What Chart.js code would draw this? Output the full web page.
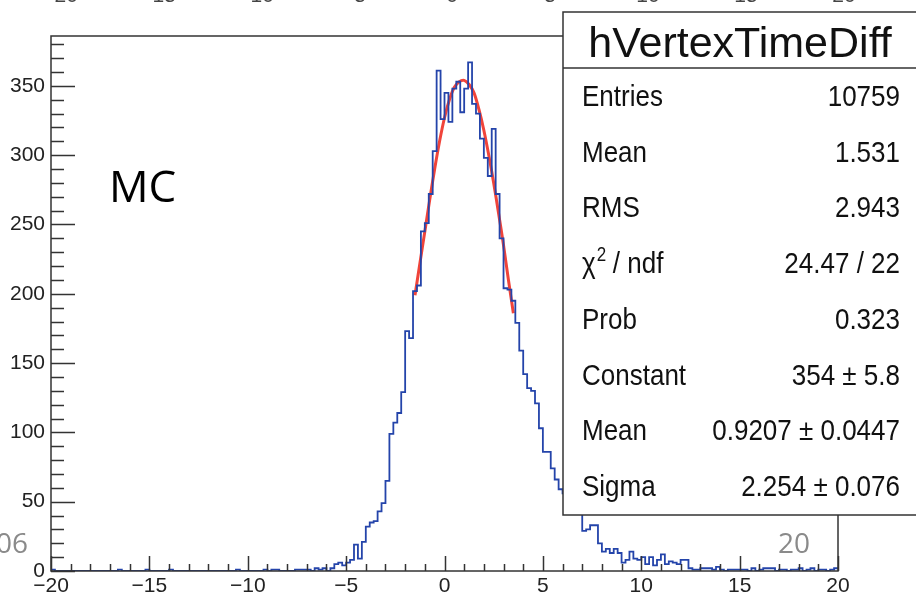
<!DOCTYPE html>
<html>
<head>
<meta charset="utf-8">
<script src="https://cdn.jsdelivr.net/npm/chart.js@4.4.1/dist/chart.umd.min.js"></script>
<style>
  html, body { margin: 0; padding: 0; background: #fff; }
  #wrap { width: 916px; height: 593px; position: relative; }
</style>
</head>
<body>
<div id="wrap"><canvas id="hist"></canvas></div>
<script>
// histogram binning: 200 bins of 0.2 from -20 to 20
const binLow = -20;
const binWidth = 0.2;
const xMin = -20, xMax = 20;
const yMax = 386;

// bin contents (left to right)
const counts = [
  1, 0, 0, 0, 0, 0, 0, 0, 0, 0,
  0, 0, 0, 0, 0, 0, 0, 1, 0, 0,
  0, 0, 0, 0, 1, 0, 0, 0, 0, 0,
  1, 0, 0, 0, 0, 0, 0, 0, 0, 0,
  0, 0, 0, 0, 0, 0, 0, 1, 0, 0,
  0, 0, 0, 0, 1, 0, 1, 1, 0, 0,
  0, 0, 1, 1, 1, 1, 0, 2, 1, 2,
  0, 2, 5, 6, 4, 6, 8, 19, 9, 21,
  32, 35, 36, 43, 49, 65, 99, 107, 114, 129,
  173, 168, 202, 206, 245, 251, 272, 303, 361, 326,
  345, 324, 348, 353, 331, 348, 367, 337, 330, 312,
  298, 285, 319, 272, 240, 204, 203, 195, 179, 159,
  142, 132, 130, 121, 103, 86, 86, 74, 66, 59,
  56, 50, 51, 44, 41, 29, 30, 33, 33, 20,
  14, 16, 13, 16, 13, 6, 8, 14, 9, 8,
  10, 5, 10, 4, 8, 12, 5, 7, 6, 5,
  8, 8, 2, 1, 1, 2, 2, 2, 1, 3,
  1, 0, 1, 1, 1, 1, 1, 0, 2, 0,
  1, 2, 2, 2, 0, 1, 1, 0, 1, 1,
  2, 0, 1, 2, 0, 1, 1, 0, 1, 2
];

// gaussian fit curve
const fitX = [-1.5, -1.25, -1.0, -0.75, -0.5, -0.25, 0, 0.25, 0.5, 0.75, 1.0,
              1.25, 1.5, 1.75, 2.0, 2.25, 2.5, 2.75, 3.0, 3.25, 3.5];
const fitY = [199, 222, 245, 268, 290, 310, 327, 340, 349, 353, 354,
              351, 345, 333, 318, 300, 280, 258, 235, 210, 186];

const xTickStep = 5, xMinorStep = 1;
const yTickStep = 50, yMinorStep = 10;

const statsTitle = 'hVertexTimeDiff';
const statsLabels = ['Entries', 'Mean', 'RMS', 'chi2', 'Prob', 'Constant', 'Mean', 'Sigma'];
const statsValues = ['10759', '1.531', '2.943', '24.47 / 22', '0.323', '354 \u00b1 5.8', '0.9207 \u00b1 0.0447', '2.254 \u00b1 0.076'];
const topAxisLabels = ['\u221220', '\u221215', '\u221210', '\u22125', '0', '5', '10', '15', '20'];

const fmt = (v) => (v < 0 ? '\u2212' + Math.abs(v) : String(v));
const FONT = '"Liberation Sans", Arial, sans-serif';

const histData = counts.map((c, i) => ({ x: binLow + i * binWidth, y: c }));
histData.push({ x: xMax, y: counts[counts.length - 1] });
const fitData = fitX.map((x, i) => ({ x: x, y: fitY[i] }));

// text squeezed/stretched vertically like the stats box of the picture
function tallText(ctx, txt, x, y, sy) {
  ctx.save();
  ctx.translate(x, y);
  ctx.scale(1, sy);
  ctx.fillText(txt, 0, 0);
  ctx.restore();
}

const rootFrame = {
  id: 'rootFrame',
  afterDatasetsDraw(chart) {
    const { ctx, chartArea: a, scales: { x, y } } = chart;
    ctx.save();
    ctx.strokeStyle = '#333';
    ctx.lineWidth = 1.5;
    ctx.strokeRect(a.left, a.top, a.right - a.left, a.bottom - a.top);
    ctx.beginPath();
    for (let v = xMin; v <= xMax; v += xMinorStep) {
      const px = Math.round(x.getPixelForValue(v)) + 0.5;
      const len = v % xTickStep === 0 ? 15 : 7;
      ctx.moveTo(px, a.bottom);
      ctx.lineTo(px, a.bottom - len);
    }
    for (let v = 0; v <= yMax; v += yMinorStep) {
      const py = Math.round(y.getPixelForValue(v)) + 0.5;
      const len = v % yTickStep === 0 ? 24 : 13;
      ctx.moveTo(a.left, py);
      ctx.lineTo(a.left + len, py);
    }
    ctx.stroke();
    ctx.restore();
  },
  afterDraw(chart) {
    const { ctx } = chart;
    ctx.save();

    // cut-off labels of the plot above
    ctx.fillStyle = '#444';
    ctx.font = '21px ' + FONT;
    ctx.textAlign = 'center';
    ctx.textBaseline = 'alphabetic';
    topAxisLabels.forEach((t, i) => ctx.fillText(t, 60 + i * 98, 2));

    // stats box
    const bx = 563, by = 12, bw = 360, bh = 503;
    ctx.fillStyle = '#fff';
    ctx.fillRect(bx, by, bw, bh);
    ctx.strokeStyle = '#333';
    ctx.lineWidth = 1.5;
    ctx.strokeRect(bx, by, bw, bh);
    ctx.beginPath();
    ctx.moveTo(bx, 68);
    ctx.lineTo(bx + bw, 68);
    ctx.stroke();

    ctx.fillStyle = '#111';
    ctx.textAlign = 'center';
    ctx.font = '43px ' + FONT;
    ctx.fillText(statsTitle, 740, 57);

    ctx.font = '26px ' + FONT;
    const sy = 1.15;
    statsLabels.forEach((lab, i) => {
      const base = 106 + i * 55.7;
      ctx.textAlign = 'left';
      if (lab === 'chi2') {
        tallText(ctx, '\u03c7', 582, base, sy);
        const w = ctx.measureText('\u03c7').width;
        ctx.font = '17px ' + FONT;
        tallText(ctx, '2', 582 + w + 1, base - 12, sy);
        ctx.font = '26px ' + FONT;
        tallText(ctx, ' / ndf', 582 + w + 10, base, sy);
      } else {
        tallText(ctx, lab, 582, base, sy);
      }
      ctx.textAlign = 'right';
      tallText(ctx, statsValues[i], 900, base, sy);
    });

    // overlay texts
    ctx.textAlign = 'left';
    ctx.fillStyle = '#000';
    ctx.font = '44px "Open Sans", sans-serif';
    ctx.fillText('MC', 109, 202);

    ctx.fillStyle = '#8a8a8a';
    ctx.font = '28px "Open Sans", sans-serif';
    ctx.textAlign = 'right';
    ctx.fillText('06', 28, 553);
    ctx.textAlign = 'left';
    ctx.fillText('20', 778, 553);
    ctx.restore();
  }
};

new Chart(document.getElementById('hist'), {
  type: 'line',
  data: {
    datasets: [
      {
        label: 'hVertexTimeDiff',
        data: histData,
        stepped: 'before',
        borderColor: '#2444aa',
        borderWidth: 1.8,
        pointRadius: 0,
        fill: false
      },
      {
        label: 'gaus',
        data: fitData,
        borderColor: '#f0443a',
        borderWidth: 3,
        pointRadius: 0,
        tension: 0.3,
        fill: false
      }
    ]
  },
  options: {
    responsive: true,
    maintainAspectRatio: false,
    animation: false,
    events: [],
    layout: { padding: { left: 0, top: 36, right: 78, bottom: 0 } },
    plugins: { legend: { display: false }, tooltip: { enabled: false } },
    scales: {
      x: {
        type: 'linear',
        min: xMin,
        max: xMax,
        afterFit: (s) => { s.height = 22; },
        grid: { display: false, drawTicks: false },
        border: { display: false },
        ticks: {
          stepSize: xTickStep,
          maxRotation: 0,
          autoSkip: false,
          padding: 3,
          color: '#222',
          font: { family: FONT, size: 21 },
          callback: (v) => fmt(v)
        }
      },
      y: {
        type: 'linear',
        min: 0,
        max: yMax,
        afterFit: (s) => { s.width = 51; },
        grid: { display: false, drawTicks: false },
        border: { display: false },
        ticks: {
          stepSize: yTickStep,
          includeBounds: false,
          padding: 6,
          color: '#222',
          font: { family: FONT, size: 21 },
          callback: (v) => (v % yTickStep === 0 ? String(v) : '')
        }
      }
    }
  },
  plugins: [rootFrame]
});
</script>
</body>
</html>
